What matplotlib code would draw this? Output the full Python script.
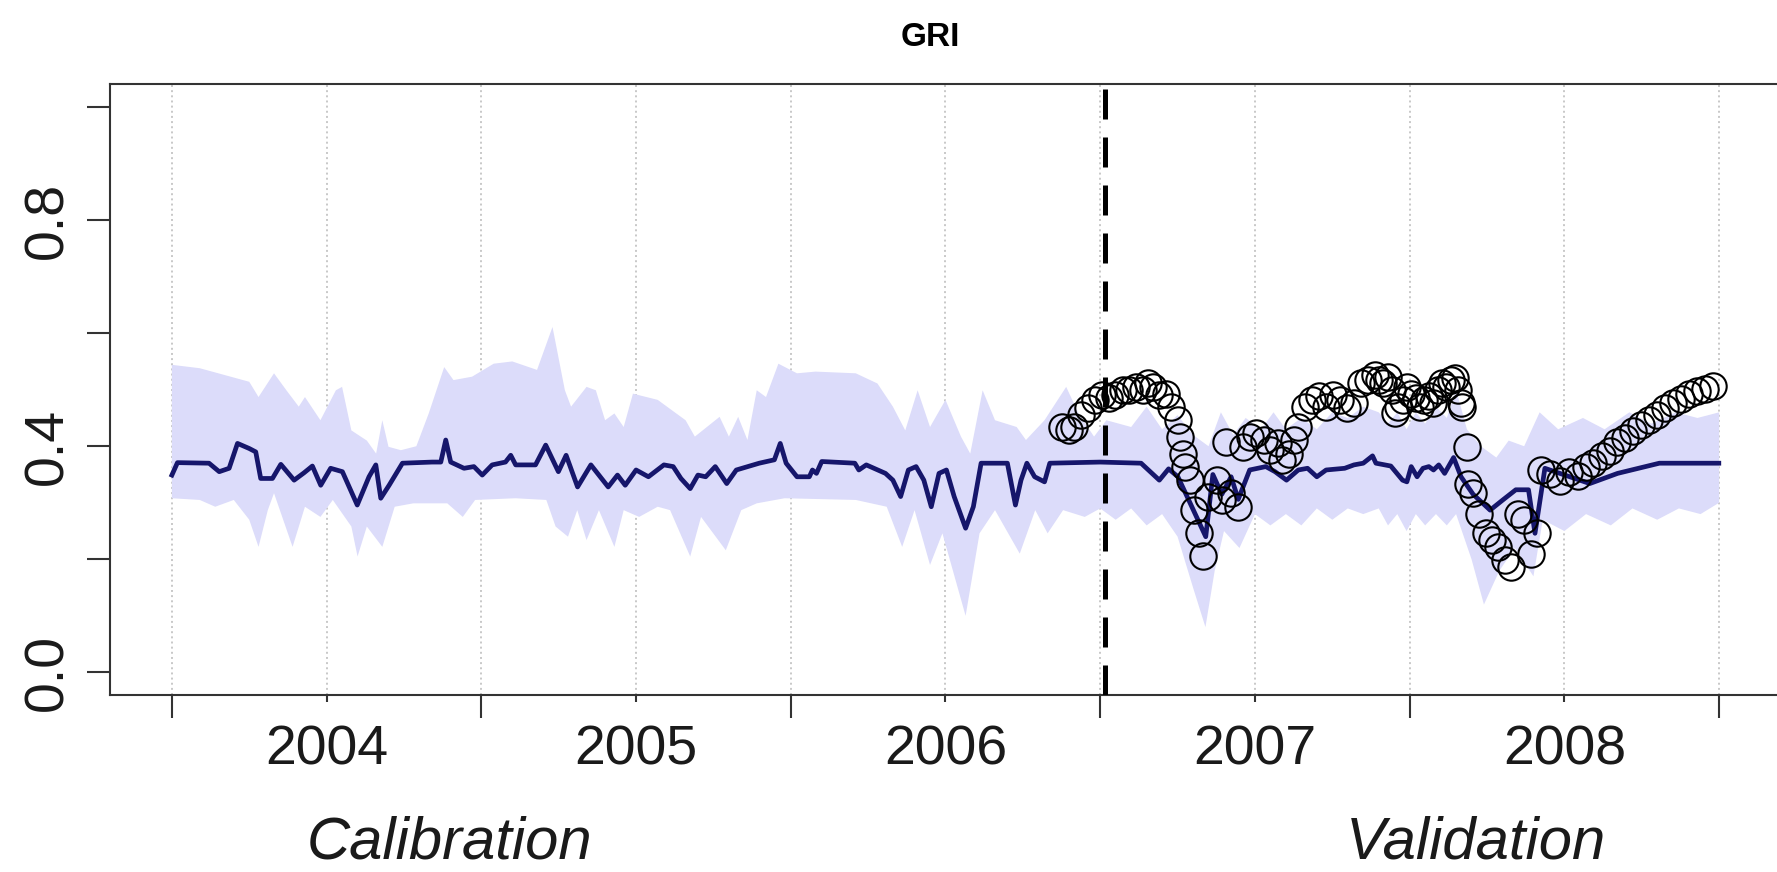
import matplotlib.pyplot as plt
import numpy as np

# --- datos (anio decimal, valor GRI) ---
sim_t = [2004.000, 2004.018, 2004.120, 2004.153, 2004.185, 2004.212, 2004.250, 2004.271, 2004.287, 2004.325,
         2004.352, 2004.395, 2004.427, 2004.454, 2004.481, 2004.513, 2004.551, 2004.599, 2004.637, 2004.659,
         2004.675, 2004.702, 2004.745, 2004.841, 2004.869, 2004.885, 2004.901, 2004.944, 2004.976, 2005.003,
         2005.035, 2005.078, 2005.095, 2005.111, 2005.175, 2005.208, 2005.249, 2005.274, 2005.311, 2005.354,
         2005.410, 2005.440, 2005.465, 2005.500, 2005.540, 2005.590, 2005.620, 2005.645, 2005.675, 2005.700,
         2005.725, 2005.756, 2005.793, 2005.824, 2005.898, 2005.947, 2005.966, 2005.985, 2006.020, 2006.060,
         2006.070, 2006.083, 2006.100, 2006.207, 2006.220, 2006.244, 2006.306, 2006.330, 2006.355, 2006.380,
         2006.405, 2006.430, 2006.454, 2006.479, 2006.503, 2006.528, 2006.565, 2006.590, 2006.615, 2006.700,
         2006.726, 2006.744, 2006.763, 2006.788, 2006.820, 2006.837, 2007.000, 2007.132, 2007.191, 2007.221,
         2007.251, 2007.341, 2007.364, 2007.393, 2007.423, 2007.446, 2007.483, 2007.535, 2007.565, 2007.602,
         2007.640, 2007.670, 2007.700, 2007.730, 2007.790, 2007.820, 2007.850, 2007.880, 2007.891, 2007.939,
         2007.977, 2007.991, 2008.005, 2008.024, 2008.043, 2008.062, 2008.077, 2008.094, 2008.113, 2008.142,
         2008.166, 2008.205, 2008.260, 2008.301, 2008.343, 2008.384, 2008.405, 2008.437, 2008.582, 2008.672,
         2008.762, 2008.807, 2008.999]
sim_v = [0.349, 0.371, 0.370, 0.355, 0.361, 0.405, 0.396, 0.390, 0.343, 0.343,
         0.368, 0.340, 0.353, 0.365, 0.331, 0.361, 0.355, 0.296, 0.346, 0.367,
         0.308, 0.331, 0.370, 0.372, 0.372, 0.411, 0.372, 0.361, 0.364, 0.349,
         0.367, 0.372, 0.384, 0.367, 0.367, 0.402, 0.355, 0.384, 0.328, 0.367,
         0.328, 0.349, 0.331, 0.358, 0.346, 0.367, 0.364, 0.343, 0.325, 0.349,
         0.346, 0.364, 0.334, 0.358, 0.370, 0.376, 0.405, 0.370, 0.346, 0.346,
         0.358, 0.352, 0.373, 0.370, 0.358, 0.367, 0.352, 0.340, 0.311, 0.358,
         0.364, 0.340, 0.293, 0.352, 0.358, 0.311, 0.255, 0.293, 0.370, 0.370,
         0.296, 0.340, 0.370, 0.346, 0.337, 0.370, 0.372, 0.370, 0.340, 0.360,
         0.346, 0.240, 0.350, 0.315, 0.346, 0.306, 0.358, 0.364, 0.355, 0.340,
         0.358, 0.361, 0.346, 0.358, 0.361, 0.367, 0.370, 0.383, 0.370, 0.365,
         0.340, 0.337, 0.364, 0.346, 0.361, 0.364, 0.358, 0.367, 0.352, 0.380,
         0.346, 0.315, 0.287, 0.305, 0.323, 0.323, 0.246, 0.361, 0.334, 0.352,
         0.364, 0.370, 0.370]

# limite superior de la banda de incertidumbre
sup_t = [2004.00, 2004.09, 2004.19, 2004.25, 2004.28, 2004.33, 2004.37, 2004.41, 2004.43, 2004.48,
         2004.53, 2004.55, 2004.58, 2004.63, 2004.66, 2004.68, 2004.70, 2004.74, 2004.79, 2004.83,
         2004.88, 2004.91, 2004.97, 2005.04, 2005.10, 2005.18, 2005.23, 2005.27, 2005.29, 2005.34,
         2005.37, 2005.40, 2005.43, 2005.46, 2005.49, 2005.57, 2005.66, 2005.69, 2005.77, 2005.80,
         2005.83, 2005.86, 2005.89, 2005.92, 2005.96, 2006.02, 2006.08, 2006.21, 2006.28, 2006.33,
         2006.37, 2006.41, 2006.45, 2006.50, 2006.55, 2006.58, 2006.62, 2006.66, 2006.73, 2006.76,
         2006.82, 2006.89, 2006.93, 2006.98, 2007.02, 2007.10, 2007.15, 2007.20, 2007.25, 2007.30,
         2007.35, 2007.39, 2007.43, 2007.47, 2007.52, 2007.56, 2007.60, 2007.65, 2007.70, 2007.75,
         2007.80, 2007.85, 2007.90, 2007.93, 2007.96, 2007.99, 2008.02, 2008.05, 2008.085, 2008.12,
         2008.15, 2008.185, 2008.23, 2008.28, 2008.32, 2008.37, 2008.42, 2008.48, 2008.56, 2008.63,
         2008.71, 2008.78, 2008.86, 2008.93, 2009.00]
sup_v = [0.544, 0.538, 0.523, 0.514, 0.487, 0.529, 0.499, 0.470, 0.487, 0.446,
         0.499, 0.505, 0.428, 0.410, 0.387, 0.446, 0.399, 0.393, 0.400, 0.458,
         0.540, 0.517, 0.523, 0.546, 0.550, 0.535, 0.611, 0.499, 0.470, 0.505,
         0.499, 0.446, 0.458, 0.434, 0.493, 0.482, 0.446, 0.417, 0.452, 0.417,
         0.452, 0.411, 0.499, 0.487, 0.546, 0.529, 0.532, 0.529, 0.511, 0.470,
         0.428, 0.499, 0.434, 0.482, 0.417, 0.387, 0.499, 0.446, 0.434, 0.411,
         0.446, 0.505, 0.458, 0.417, 0.446, 0.434, 0.470, 0.430, 0.455, 0.420,
         0.400, 0.460, 0.420, 0.450, 0.430, 0.460, 0.430, 0.450, 0.430, 0.460,
         0.450, 0.470, 0.460, 0.440, 0.460, 0.430, 0.460, 0.440, 0.470, 0.450,
         0.500, 0.430, 0.400, 0.380, 0.410, 0.400, 0.460, 0.430, 0.450, 0.430,
         0.460, 0.440, 0.460, 0.450, 0.460]

# limite inferior de la banda
inf_t = [2004.00, 2004.09, 2004.14, 2004.20, 2004.25, 2004.28, 2004.31, 2004.33, 2004.39, 2004.43,
         2004.48, 2004.52, 2004.58, 2004.60, 2004.63, 2004.68, 2004.72, 2004.78, 2004.89, 2004.94,
         2004.98, 2005.11, 2005.21, 2005.24, 2005.28, 2005.31, 2005.34, 2005.38, 2005.43, 2005.46,
         2005.51, 2005.57, 2005.61, 2005.675, 2005.71, 2005.79, 2005.84, 2005.89, 2005.98, 2006.21,
         2006.31, 2006.36, 2006.40, 2006.45, 2006.49, 2006.565, 2006.61, 2006.66, 2006.74, 2006.79,
         2006.83, 2006.88, 2006.95, 2007.00, 2007.05, 2007.10, 2007.15, 2007.20, 2007.25, 2007.30,
         2007.34, 2007.37, 2007.40, 2007.45, 2007.50, 2007.55, 2007.60, 2007.65, 2007.70, 2007.75,
         2007.80, 2007.85, 2007.90, 2007.93, 2007.96, 2007.99, 2008.02, 2008.05, 2008.085, 2008.12,
         2008.15, 2008.20, 2008.24, 2008.29, 2008.34, 2008.40, 2008.43, 2008.50, 2008.57, 2008.65,
         2008.72, 2008.80, 2008.87, 2008.94, 2009.00]
inf_v = [0.308, 0.305, 0.293, 0.305, 0.270, 0.222, 0.287, 0.317, 0.222, 0.293,
         0.275, 0.305, 0.258, 0.205, 0.258, 0.222, 0.293, 0.299, 0.299, 0.275,
         0.305, 0.308, 0.305, 0.258, 0.240, 0.287, 0.234, 0.287, 0.222, 0.287,
         0.275, 0.293, 0.287, 0.205, 0.275, 0.216, 0.287, 0.299, 0.308, 0.305,
         0.293, 0.222, 0.287, 0.190, 0.246, 0.100, 0.246, 0.287, 0.210, 0.287,
         0.246, 0.287, 0.275, 0.290, 0.270, 0.290, 0.260, 0.280, 0.240, 0.150,
         0.080, 0.180, 0.250, 0.220, 0.280, 0.260, 0.280, 0.260, 0.290, 0.270,
         0.290, 0.280, 0.290, 0.260, 0.280, 0.250, 0.280, 0.260, 0.280, 0.260,
         0.280, 0.200, 0.120, 0.180, 0.220, 0.170, 0.270, 0.250, 0.280, 0.260,
         0.290, 0.270, 0.290, 0.280, 0.300]

# observaciones (circulos)
obs_t = [2006.878, 2006.900, 2006.915, 2006.937, 2006.960, 2006.982, 2007.005, 2007.027, 2007.049, 2007.072,
         2007.094, 2007.117, 2007.139, 2007.154, 2007.169, 2007.191, 2007.214, 2007.229, 2007.251, 2007.259,
         2007.266, 2007.274, 2007.289, 2007.304, 2007.318, 2007.333, 2007.348, 2007.378, 2007.393, 2007.408,
         2007.423, 2007.446, 2007.461, 2007.483, 2007.505, 2007.528, 2007.550, 2007.573, 2007.588, 2007.610,
         2007.625, 2007.640, 2007.662, 2007.685, 2007.707, 2007.730, 2007.752, 2007.774, 2007.797, 2007.819,
         2007.842, 2007.864, 2007.887, 2007.901, 2007.915, 2007.929, 2007.943, 2007.953, 2007.962, 2007.977,
         2007.991, 2008.004, 2008.019, 2008.033, 2008.047, 2008.061, 2008.075, 2008.090, 2008.104, 2008.118,
         2008.132, 2008.146, 2008.156, 2008.165, 2008.170, 2008.184, 2008.190, 2008.204, 2008.225, 2008.246,
         2008.267, 2008.287, 2008.308, 2008.329, 2008.349, 2008.371, 2008.391, 2008.412, 2008.426, 2008.455,
         2008.485, 2008.514, 2008.543, 2008.569, 2008.594, 2008.620, 2008.646, 2008.671, 2008.697, 2008.722,
         2008.748, 2008.774, 2008.799, 2008.825, 2008.850, 2008.876, 2008.902, 2008.927, 2008.953, 2008.979]
obs_v = [0.434, 0.429, 0.434, 0.455, 0.467, 0.482, 0.490, 0.485, 0.490, 0.499,
         0.499, 0.505, 0.499, 0.511, 0.505, 0.490, 0.493, 0.470, 0.446, 0.417,
         0.387, 0.364, 0.340, 0.287, 0.246, 0.205, 0.311, 0.340, 0.305, 0.408,
         0.317, 0.293, 0.399, 0.417, 0.423, 0.411, 0.393, 0.405, 0.376, 0.387,
         0.411, 0.434, 0.470, 0.482, 0.488, 0.470, 0.490, 0.482, 0.467, 0.476,
         0.511, 0.517, 0.526, 0.517, 0.511, 0.523, 0.499, 0.458, 0.470, 0.482,
         0.505, 0.493, 0.485, 0.470, 0.482, 0.488, 0.476, 0.499, 0.511, 0.505,
         0.517, 0.520, 0.499, 0.476, 0.470, 0.399, 0.334, 0.317, 0.281, 0.246,
         0.234, 0.222, 0.199, 0.187, 0.281, 0.269, 0.210, 0.246, 0.358, 0.351,
         0.339, 0.355, 0.347, 0.363, 0.371, 0.383, 0.391, 0.407, 0.415, 0.427,
         0.437, 0.447, 0.455, 0.468, 0.476, 0.484, 0.492, 0.498, 0.502, 0.506]

inicio_valid = 2007.015
anios = [2004, 2005, 2006, 2007, 2008, 2009]
etiquetas = ['2004', '2005', '2006', '2007', '2008']

plt.rcParams['font.family'] = ['Liberation Sans', 'DejaVu Sans']

fig = plt.figure(figsize=(17.77, 8.72), dpi=100)
ax = fig.add_axes([110 / 1777, 1 - 695 / 872, 1671 / 1777, 610.6 / 872])

# banda
poly_x = np.concatenate([sup_t, inf_t[::-1]])
poly_y = np.concatenate([sup_v, inf_v[::-1]])
ax.fill(poly_x, poly_y, color='#dcdcfa', lw=0, zorder=1)

ax.plot(sim_t, sim_v, color='#16166b', lw=3.4, zorder=3, solid_joinstyle='round')
ax.axvline(inicio_valid, color='black', lw=3.6, dashes=(6, 3.6), zorder=4)
ax.plot(obs_t, obs_v, 'o', ms=19, mfc='none', mec='black', mew=1.5, zorder=5)

ax.set_xlim(2003.8, 2009.2)
ax.set_ylim(-0.04, 1.04)

# ejes estilo R
mitades = [a + 0.5 for a in anios[:-1]]
ax.set_xticks(anios, [''] * len(anios))
ax.set_xticks(mitades, etiquetas, minor=True)
ax.set_yticks([0, 0.2, 0.4, 0.6, 0.8, 1.0], ['0.0', '', '0.4', '', '0.8', ''])
for lbl in ax.get_yticklabels():
    lbl.set_rotation(90)
    lbl.set_va('center')

ax.tick_params(axis='both', which='major', length=16.5, width=1.5, color='#333333',
               labelsize=40, labelcolor='#1a1a1a')
ax.tick_params(axis='x', which='minor', length=5, width=1.5, color='#333333',
               labelsize=40, labelcolor='#1a1a1a', pad=16)
ax.tick_params(axis='y', pad=9)

ax.grid(True, axis='x', which='both', color='#c8c8c8', linestyle=':', lw=1.4, zorder=0)
ax.set_axisbelow(True)

for s in ax.spines.values():
    s.set_color('#333333')
    s.set_linewidth(1.5)

fig.text(930 / 1777, 1 - 37 / 872, 'GRI', fontsize=24, fontweight='bold', ha='center', va='center')
# textos inferiores: linea base cerca del borde, como en el original
fig.text(450 / 1777, 1 - 858 / 872, 'Calibration', fontsize=43, style='italic', ha='center',
         va='baseline', color='#1a1a1a')
fig.text(1476 / 1777, 1 - 858 / 872, 'Validation', fontsize=43, style='italic', ha='center',
         va='baseline', color='#1a1a1a')

plt.savefig('out.png', dpi=100)
